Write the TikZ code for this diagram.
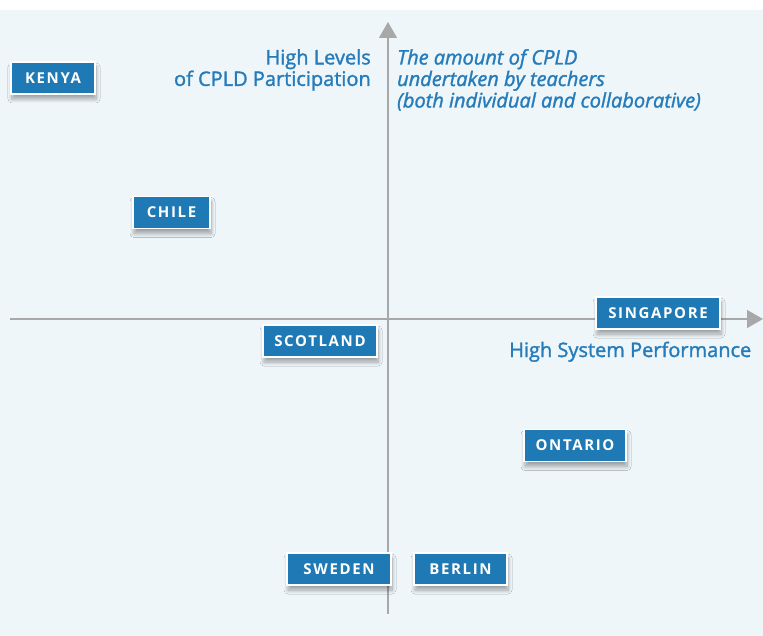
\documentclass[tikz,border=0pt]{standalone}
\usepackage{fontspec}
\setmainfont{Open Sans}
\newfontfamily\labfont{Open Sans}[FakeBold=1.5]
\newfontfamily\boxfont{Open Sans}[LetterSpace=11]
\usetikzlibrary{arrows.meta,shadows.blur}
\definecolor{bgblue}{RGB}{238,246,250}
\definecolor{boxblue}{RGB}{30,121,180}
\definecolor{txtblue}{RGB}{38,124,186}
\definecolor{axisgray}{RGB}{168,168,168}
\tikzset{
  country/.style={draw=white, line width=1.5pt, fill=boxblue, text=white,
    font=\boxfont\bfseries\fontsize{15}{16}\selectfont, minimum height=32pt, inner sep=0pt,
    blur shadow={shadow xshift=1pt, shadow yshift=-5pt, shadow opacity=35, shadow blur steps=8, shadow blur radius=4pt}},
  axis/.style={draw=axisgray, line width=1.4pt, -{Triangle[length=16pt,width=18pt]}},
  label/.style={text=txtblue, inner sep=0pt, font=\labfont\fontsize{20}{21.5}\selectfont},
}
\begin{document}
\begin{tikzpicture}[x=1pt,y=-1pt]
\useasboundingbox (0,0) rectangle (763,636);
\fill[white] (0,0) rectangle (763,636);
\fill[bgblue] (0,10) rectangle (763,636);
\coordinate (vbot) at (388,614);
\coordinate (vtop) at (388,22);
\coordinate (hleft) at (10,319);
\coordinate (hright) at (763,319);
\draw[axis] (vbot) -- (vtop);
\draw[axis] (hleft) -- (hright);
\node[label, align=right, anchor=north east] (ylab) at (371,49) {High Levels\\of CPLD Participation};
\node[label, align=left, anchor=north west, font=\labfont\itshape\fontsize{20}{21.5}\selectfont] (ydesc) at (397,49) {The amount of CPLD\\undertaken by teachers\\(both individual and collaborative)};
\node[label, anchor=base west] (xlab) at (509,357) {High System Performance};
\node[country, minimum width=84pt] (kenya) at (53,78) {KENYA};
\node[country, minimum width=77pt] (chile) at (171.5,212.5) {CHILE};
\node[country, minimum width=124pt] (singapore) at (658,313) {SINGAPORE};
\node[country, minimum width=114pt] (scotland) at (320,341) {SCOTLAND};
\node[country, minimum width=102pt] (ontario) at (575,445.5) {ONTARIO};
\node[country, minimum width=104pt] (sweden) at (339,569) {SWEDEN};
\node[country, minimum width=93pt] (berlin) at (460.5,569) {BERLIN};
\end{tikzpicture}
\end{document}
